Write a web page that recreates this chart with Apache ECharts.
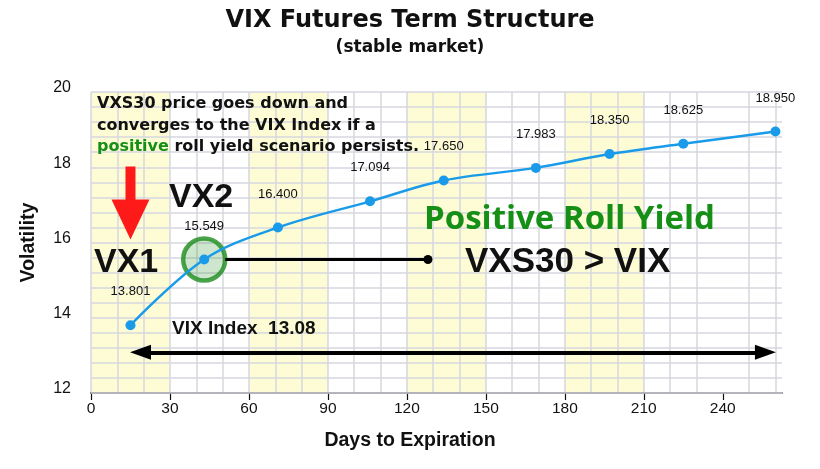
<!DOCTYPE html>
<html>
<head>
<meta charset="utf-8">
<script src="https://cdn.jsdelivr.net/npm/echarts@6/dist/echarts.min.js"></script>
<style>
  html, body { margin: 0; padding: 0; background: #fff; }
  #main { width: 820px; height: 469px; }
</style>
</head>
<body>
<div id="main"></div>
<script>
// VX futures: days to expiration and settle price
const days = [15, 43, 71, 106, 134, 169, 197, 225, 260]
const prices = [13.801, 15.549, 16.400, 17.094, 17.650, 17.983, 18.350, 18.625, 18.950]
const vixIndex = 13.08

// axis ticks
const xTickLabels = [0, 30, 60, 90, 120, 150, 180, 210, 240]
const yTickLabels = [12, 14, 16, 18, 20]
const xMax = 262.5

const green = '#158f15'
const sans = 'Liberation Sans, Arial, sans-serif'
const heavy = 'DejaVu Sans, sans-serif'

let points = days.map((d, i) => [d, prices[i]])

let myChart = echarts.init(document.getElementById('main'))

let options = {
  animation: false,
  title: {
    text: 'VIX Futures Term Structure',
    subtext: '(stable market)',
    left: 'center',
    top: 4,
    itemGap: 6,
    textStyle: { fontFamily: heavy, fontWeight: 'bold', fontSize: 24, color: '#111' },
    subtextStyle: { fontFamily: heavy, fontWeight: 'bold', fontSize: 17, color: '#111' }
  },
  grid: { left: 91, right: 38, top: 92, bottom: 76 },
  xAxis: {
    type: 'value',
    z: 0,
    min: xTickLabels[0],
    max: xMax,
    interval: 30,
    name: 'Days to Expiration',
    nameLocation: 'middle',
    nameGap: 38,
    nameTextStyle: { fontFamily: sans, fontWeight: 'bold', fontSize: 19.5, color: '#111', padding: [0, 53, 0, 0] },
    axisLine: { show: true, lineStyle: { color: '#111', width: 1.5 } },
    axisTick: { show: true, length: 7, customValues: xTickLabels, lineStyle: { color: '#111', width: 1.2 } },
    axisLabel: {
      fontFamily: sans, fontSize: 15.5, color: '#111', margin: 8,
      formatter: v => (xTickLabels.indexOf(v) >= 0 ? String(v) : '')
    },
    splitLine: { show: true, showMaxLine: false, lineStyle: { color: '#d6d6e0', width: 1.5 } },
    minorTick: { show: false, splitNumber: 3 },
    minorSplitLine: { show: true, lineStyle: { color: '#d6d6e0', width: 1.5 } },
    splitArea: { show: true, areaStyle: { color: ['#fdfcd5', '#ffffff'] } }
  },
  yAxis: {
    type: 'value',
    z: 1,
    min: yTickLabels[0],
    max: yTickLabels[yTickLabels.length - 1],
    interval: 2,
    name: 'Volatility',
    nameLocation: 'middle',
    nameGap: 52,
    nameTextStyle: { fontFamily: sans, fontWeight: 'bold', fontSize: 19.5, color: '#111' },
    axisLine: { show: false },
    axisTick: { show: false },
    axisLabel: { fontFamily: sans, fontSize: 16, color: '#111', margin: 20, verticalAlign: 'bottom', lineHeight: 8 },
    splitLine: { show: true, lineStyle: { color: '#d6d6e0', width: 1.5 } },
    minorTick: { show: false, splitNumber: 5 },
    minorSplitLine: { show: true, lineStyle: { color: '#d6d6e0', width: 1.5 } }
  },
  series: [
    {
      // green ring round VX2
      name: 'VX2 ring',
      type: 'scatter',
      z: 1,
      silent: true,
      symbolSize: 42,
      data: [points[1]],
      itemStyle: { color: 'rgba(30, 140, 30, 0.27)', borderColor: '#1d8c1d', borderWidth: 4.5 }
    },
    {
      name: 'VX',
      type: 'line',
      z: 2,
      smooth: 0.35,
      symbol: 'circle',
      symbolSize: 10,
      data: points,
      itemStyle: { color: '#1a9be9' },
      lineStyle: { color: '#1a9be9', width: 2.5 },
      label: {
        show: true,
        position: 'top',
        distance: 22,
        fontFamily: sans,
        fontSize: 13,
        color: '#111',
        formatter: p => p.value[1].toFixed(3)
      },
      markPoint: {
        silent: true,
        label: { show: false },
        data: [
          {
            coord: [15, 17.05],
            symbol: 'path://M14,0L24,0L24,33L38,33L19,73L0,33L14,33Z',
            symbolSize: [38, 73],
            itemStyle: { color: '#ff1a1a' }
          }
        ]
      },
      markLine: {
        silent: true,
        label: { show: false },
        data: [
          [
            { coord: [18.8, vixIndex], symbol: 'triangle', symbolSize: [15, 21], lineStyle: { color: '#000', width: 4, type: 'solid' } },
            { coord: [256.2, vixIndex], symbol: 'triangle', symbolSize: [15, 21] }
          ],
          [
            { coord: [51, prices[1]], symbol: 'none', lineStyle: { color: '#000', width: 3, type: 'solid' } },
            { coord: [128, prices[1]], symbol: 'circle', symbolSize: 9 }
          ]
        ]
      }
    }
  ],
  graphic: [
    {
      type: 'text',
      z: 100,
      left: 97,
      top: 96,
      style: {
        text: '{b|VXS30 price goes down and}\n{b|converges to the VIX Index if a}\n{g|positive}{b| roll yield scenario persists.}',
        rich: {
          b: { fontFamily: heavy, fontWeight: 'bold', fontSize: 16, lineHeight: 21.5, fill: '#111' },
          g: { fontFamily: heavy, fontWeight: 'bold', fontSize: 16, lineHeight: 21.5, fill: green }
        }
      }
    },
    {
      type: 'text', z: 100, x: 94, y: 263,
      style: { text: 'VX1', font: 'bold 34px ' + sans, fill: '#111', align: 'left', verticalAlign: 'middle' }
    },
    {
      type: 'text', z: 100, x: 169, y: 198,
      style: { text: 'VX2', font: 'bold 34px ' + sans, fill: '#111', align: 'left', verticalAlign: 'middle' }
    },
    {
      type: 'text', z: 100, x: 424, y: 220,
      style: { text: 'Positive Roll Yield', font: 'bold 33px "Open Sans", sans-serif', fill: green, align: 'left', verticalAlign: 'middle' }
    },
    {
      type: 'text', z: 100, x: 465, y: 262,
      style: { text: 'VXS30 > VIX', font: 'bold 35px ' + sans, fill: '#111', align: 'left', verticalAlign: 'middle' }
    },
    {
      type: 'text', z: 100, x: 172, y: 329,
      style: { text: 'VIX Index  ' + vixIndex.toFixed(2), font: 'bold 19px ' + sans, fill: '#111', align: 'left', verticalAlign: 'middle' }
    }
  ]
}

myChart.setOption(options)
</script>
</body>
</html>
